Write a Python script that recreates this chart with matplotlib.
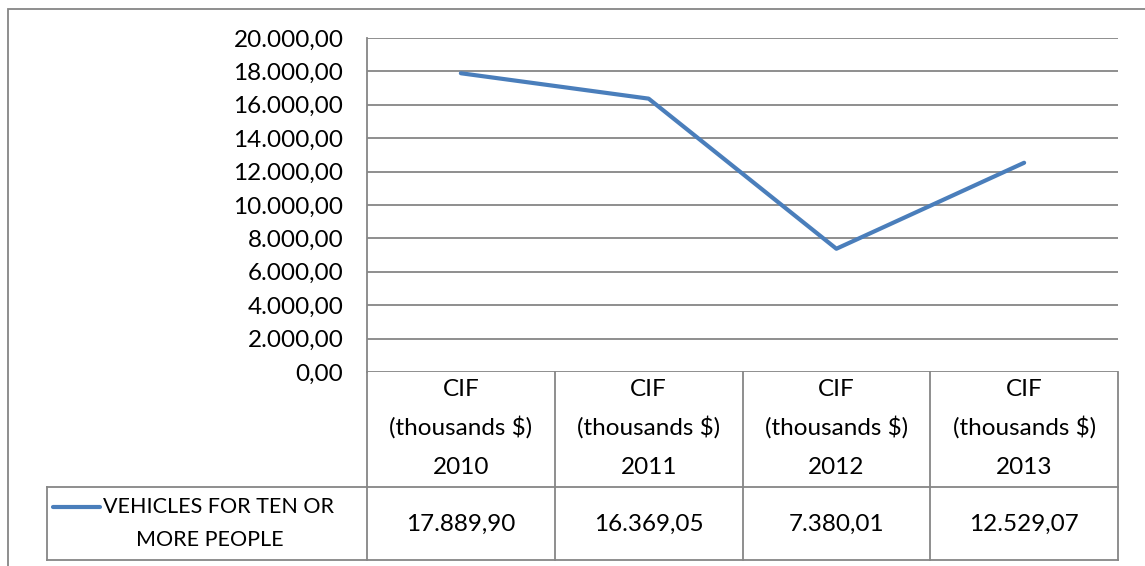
import matplotlib.pyplot as plt
import matplotlib.transforms as mtransforms
from matplotlib.lines import Line2D
from matplotlib.patches import Rectangle

# Chart data
years = ['2010', '2011', '2012', '2013']
series_name = ['VEHICLES FOR TEN OR', 'MORE PEOPLE']
values = [17889.90, 16369.05, 7380.01, 12529.07]
y_ticks = list(range(0, 20001, 2000))


def fmt_num(v):
    # European style: 20.000,00
    s = f"{v:,.2f}"
    return s.replace(',', 'X').replace('.', ',').replace('X', '.')


plt.rcParams['font.family'] = ['Lato', 'DejaVu Sans']
W, H = 1145, 566
fig = plt.figure(figsize=(W / 100, H / 100), dpi=100)
fig.patch.set_facecolor('white')

grey = '#868686'
blue = '#4A7EBB'
fs = 17.5

# plot area in pixel coordinates
left, right, top, bottom = 367, 1118, 38, 372
ax = fig.add_axes([left / W, 1 - bottom / H, (right - left) / W, (bottom - top) / H])

x = list(range(len(years)))
ax.plot(x, values, color=blue, lw=3.0, solid_capstyle='round', solid_joinstyle='round', zorder=3)
ax.set_xlim(-0.5, len(years) - 0.5)
ax.set_ylim(0, 20000)
ax.set_yticks(y_ticks)
ax.set_yticklabels([fmt_num(v) for v in y_ticks], fontsize=fs)
ax.tick_params(axis='y', length=0, pad=17)
ax.set_xticks([])
for t in y_ticks:
    ax.axhline(t, color=grey, lw=1.3, zorder=1)
for s in ['top', 'right', 'bottom']:
    ax.spines[s].set_visible(False)
ax.spines['left'].set_color(grey)
ax.spines['left'].set_linewidth(1.3)

# data table under the plot
ph = bottom - top
pw = right - left
def ay(py):
    return (bottom - py) / ph
def ax_x(px):
    return (px - left) / pw

bt = mtransforms.blended_transform_factory(ax.transData, ax.transAxes)
y_head = ay(487)
y_bot = ay(560)
lkw = dict(color=grey, lw=1.3, clip_on=False)

for i in range(len(years) + 1):
    ax.add_line(Line2D([i - 0.5, i - 0.5], [0, y_bot], transform=bt, **lkw))
ax.add_line(Line2D([ax_x(47), 1], [y_head, y_head], transform=ax.transAxes, **lkw))
ax.add_line(Line2D([ax_x(47), 1], [y_bot, y_bot], transform=ax.transAxes, **lkw))
ax.add_line(Line2D([ax_x(47), ax_x(47)], [y_head, y_bot], transform=ax.transAxes, **lkw))

for i, yr in enumerate(years):
    ax.text(i, ay(390), 'CIF', transform=bt, ha='center', va='center', fontsize=fs)
    ax.text(i, ay(427), '(thousands $)', transform=bt, ha='center', va='center', fontsize=fs)
    ax.text(i, ay(467), yr, transform=bt, ha='center', va='center', fontsize=fs)
    ax.text(i, ay(524), fmt_num(values[i]), transform=bt, ha='center', va='center', fontsize=fs)

# legend key in the table
lfs = 15.5
ax.add_line(Line2D([ax_x(53), ax_x(100)], [ay(507), ay(507)], transform=ax.transAxes,
                   color=blue, lw=3.0, solid_capstyle='round', clip_on=False))
ax.text(ax_x(103), ay(507), series_name[0], transform=ax.transAxes, ha='left', va='center',
        fontsize=lfs)
ax.text(ax_x(210), ay(540), series_name[1], transform=ax.transAxes, ha='center', va='center',
        fontsize=lfs)

# outer chart border
fig.patches.append(Rectangle((8 / W, -0.1), 1.2, 1 - 9 / H + 0.1, transform=fig.transFigure,
                             fill=False, edgecolor=grey, lw=1.3))

fig.savefig('out.png', dpi=100)
